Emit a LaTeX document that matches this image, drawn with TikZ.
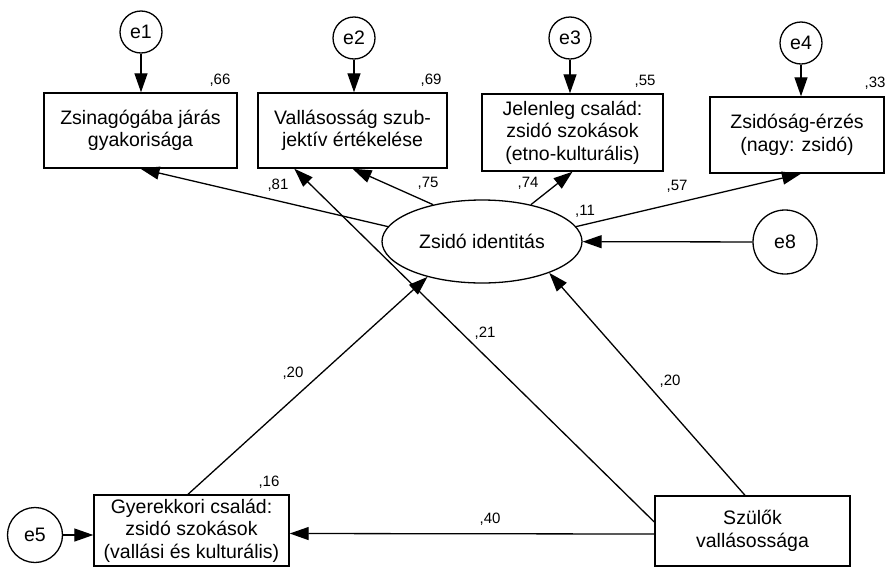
\documentclass[tikz,border=0pt]{standalone}
\usepackage{fontspec}
\setmainfont{Liberation Sans}
\usetikzlibrary{arrows.meta,shapes.geometric}
\begin{document}
\begin{tikzpicture}[x=1pt,y=-1pt,
  box/.style={draw,line width=1.4pt,align=center,inner sep=0pt,font=\fontsize{19.5}{22.5}\selectfont},
  err/.style={draw,circle,line width=1.3pt,inner sep=0pt,font=\fontsize{19.5}{22}\selectfont},
  lat/.style={draw,ellipse,line width=1.3pt,inner sep=0pt,font=\fontsize{19.5}{22}\selectfont},
  lbl/.style={font=\fontsize{15}{17}\selectfont,inner sep=0pt},
  arr/.style={line width=1.3pt,-{Triangle[length=19pt,width=13pt]}}]
\useasboundingbox (0,0) rectangle (890,568);

% boxes
\node[box,minimum width=193pt,minimum height=75pt] (b1) at (140.5,130.5) {Zsinagógába járás\\gyakorisága};
\node[box,minimum width=189pt,minimum height=75pt] (b2) at (352.5,130.5) {Vallásosság szub-\\jektív értékelése};
\node[box,minimum width=181pt,minimum height=77pt] (b3) at (572.5,132.5) {Jelenleg család:\\zsidó szokások\\(etno-kulturális)};
\node[box,minimum width=174pt,minimum height=76pt] (b4) at (797,135) {Zsidóság-érzés\\(nagy: zsidó)};
\node[box,minimum width=195pt,minimum height=71pt] (b5) at (191.5,530.5) {Gyerekkori család:\\zsidó szokások\\(vallási és kulturális)};
\node[box,minimum width=195pt,minimum height=70pt] (b6) at (752.5,531) {Szülők\\vallásossága};

% latent
\node[lat,minimum width=200pt,minimum height=83pt] (el) at (482,241.5) {Zsidó identitás};

% errors
\node[err,minimum size=42pt] (e1) at (141,32) {e1};
\node[err,minimum size=42pt] (e2) at (354,38) {e2};
\node[err,minimum size=42pt] (e3) at (570,38) {e3};
\node[err,minimum size=42pt] (e4) at (801,43) {e4};
\node[err,minimum size=55pt] (e5) at (35,535) {e5};
\node[err,minimum size=64pt] (e8) at (785,242) {e8};

% arrows
\draw[arr] (e1) -- (e1 |- b1.north);
\draw[arr] (e2) -- (e2 |- b2.north);
\draw[arr] (e3) -- (e3 |- b3.north);
\draw[arr] (e4) -- (e4 |- b4.north);
\draw[arr] (e5) -- (e5 -| b5.west);
\draw[arr] (e8) -- (el);

\draw[arr] (el.171) -- (b1.south);
\draw[arr] (el.143) -- (b2.south);
\draw[arr] (el.37) -- (b3.south);
\draw[arr] (el.9) -- (e4 |- b4.south);

\draw[arr] ([xshift=-3.5pt]b5.north) -- (el.213);
\draw[arr] ([xshift=-7.5pt]b6.north) -- (el.-25);
\draw[arr] ([yshift=9pt]b6.west) -- ([xshift=37pt]b2.south west);
\draw[arr] ([yshift=-3pt]b6.west) -- ([yshift=-3pt]b5.east);

% labels
\node[lbl] (l66) at (220,80) {,66};
\node[lbl] (l69) at (431,80) {,69};
\node[lbl] (l55) at (645,81) {,55};
\node[lbl] (l33) at (875,83) {,33};
\node[lbl] (l81) at (278,185) {,81};
\node[lbl] (l75) at (428,183) {,75};
\node[lbl] (l74) at (528,183) {,74};
\node[lbl] (l57) at (677,186) {,57};
\node[lbl] (l11) at (585,211) {,11};
\node[lbl] (l21) at (485,333) {,21};
\node[lbl] (l20a) at (293,373) {,20};
\node[lbl] (l20b) at (670,381) {,20};
\node[lbl] (l16) at (269,482) {,16};
\node[lbl] (l40) at (490,519) {,40};
\end{tikzpicture}
\end{document}
